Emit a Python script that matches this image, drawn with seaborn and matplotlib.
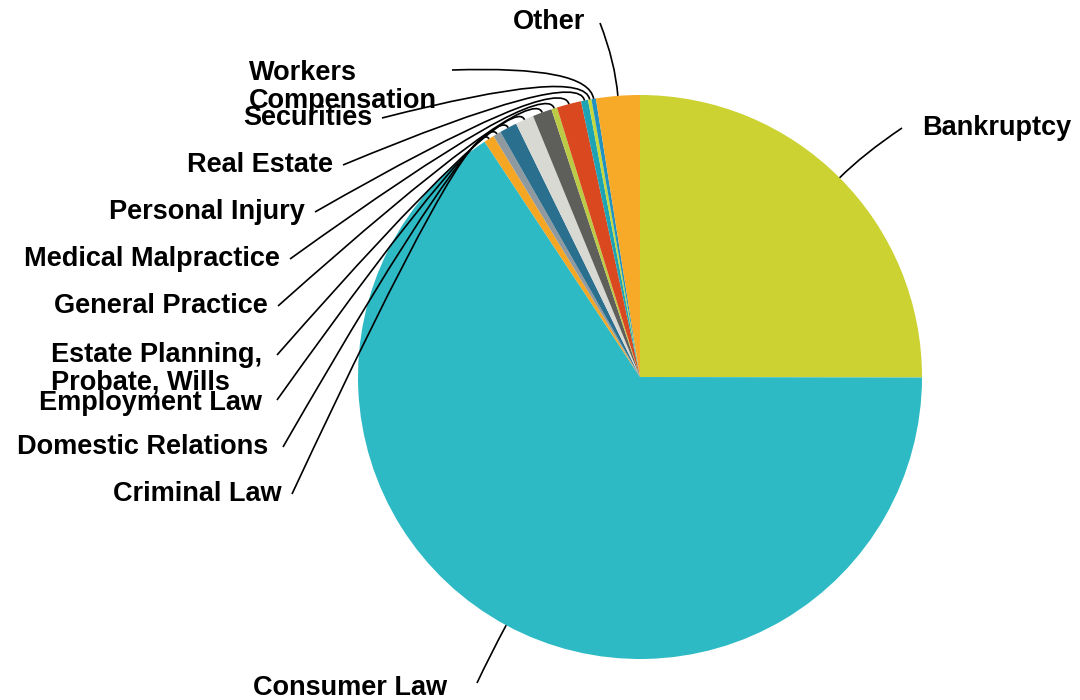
import seaborn as sns
import matplotlib
matplotlib.use("Agg")
import matplotlib.pyplot as plt
from matplotlib.path import Path
from matplotlib.patches import PathPatch
import numpy as np

#%% Data (clockwise from 12 o'clock)
categories = ["Bankruptcy", "Consumer Law", "Criminal Law", "Domestic Relations",
              "Employment Law", "Estate Planning,\nProbate, Wills", "General Practice",
              "Medical Malpractice", "Personal Injury", "Real Estate", "Securities",
              "Workers\nCompensation", "Other"]
shares = [25.0, 65.6, 0.6, 0.45, 1.0, 1.05, 1.1, 0.33, 1.4, 0.4, 0.2, 0.25, 2.5]
colors = ["#CBD231", "#2EBAC5", "#F5A623", "#8E9AA0", "#2A6F8E", "#D9D9D4",
          "#5E5E5A", "#BCCB45", "#D9481F", "#1EA3B5", "#C5D93A", "#2191C0", "#F7A928"]

#%% Theme
sns.set_style("white")
sns.set_palette(sns.color_palette(colors))
plt.rcParams['font.family'] = ['Liberation Sans', 'DejaVu Sans']

fig = plt.figure(figsize=(10.8, 7), dpi=100)
ax = fig.add_axes([0, 0, 1, 1])

# pixel-like coordinates, y pointing down -> visual clockwise = counterclock in data
cx, cy, rad = 640, 377, 282
wedges, _ = ax.pie(shares, colors=sns.color_palette(colors), startangle=270,
                   counterclock=True, center=(cx, cy), radius=rad,
                   wedgeprops=dict(linewidth=0))
ax.set_xlim(0, 1080)
ax.set_ylim(700, 0)
ax.set_aspect('equal')
ax.axis('off')

# label layout: text anchor (x, y, ha) and connector start point
layout = {
    "Bankruptcy": ((922, 128, 'left'), (902, 128)),
    "Consumer Law": ((447, 688, 'right'), (477, 683)),
    "Criminal Law": ((282, 494, 'right'), (292, 494)),
    "Domestic Relations": ((268, 447, 'right'), (283, 447)),
    "Employment Law": ((262, 403, 'right'), (277, 400)),
    "Estate Planning,\nProbate, Wills": ((262, 369, 'right'), (277, 355)),
    "General Practice": ((268, 306, 'right'), (278, 306)),
    "Medical Malpractice": ((280, 259, 'right'), (290, 259)),
    "Personal Injury": ((305, 212, 'right'), (315, 212)),
    "Real Estate": ((333, 165, 'right'), (343, 165)),
    "Securities": ((372, 118, 'right'), (382, 118)),
    "Workers\nCompensation": ((437, 87, 'right'), (452, 70)),
    "Other": ((585, 22, 'right'), (600, 23)),
}

for w, name in zip(wedges, categories):
    (tx, ty, ha), (ax0, ay0) = layout[name]
    ax.text(tx, ty, name, ha=ha, va='center', fontsize=19.5, fontweight='bold',
            color='black', multialignment='left', linespacing=1.1)
    th = np.deg2rad((w.theta1 + w.theta2) / 2)
    edge = (cx + rad * np.cos(th), cy + rad * np.sin(th))
    ctrl = (cx + 1.12 * rad * np.cos(th), cy + 1.12 * rad * np.sin(th))
    path = Path([(ax0, ay0), ctrl, edge], [Path.MOVETO, Path.CURVE3, Path.CURVE3])
    ax.add_patch(PathPatch(path, facecolor='none', edgecolor='black', lw=1.2))

plt.savefig('out.png', dpi=100)
